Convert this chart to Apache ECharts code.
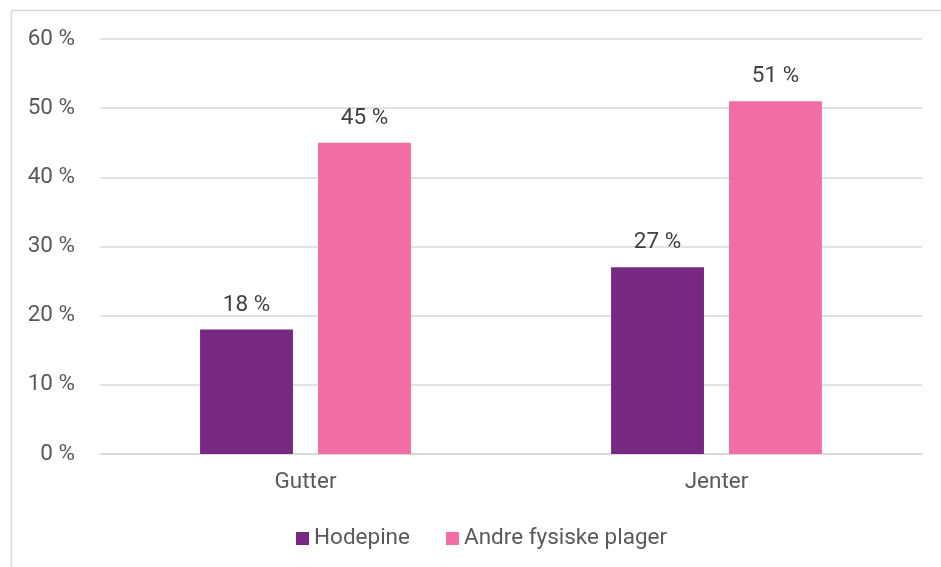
<!DOCTYPE html>
<html><head><meta charset="utf-8">
<script src="https://cdn.jsdelivr.net/npm/echarts@6/dist/echarts.min.js"></script>
<style>html,body{margin:0;padding:0;background:#fff}#c{width:941px;height:567px}</style>
</head><body><div id="c"></div>
<script>
const categories = ['Gutter', 'Jenter'];
const seriesNames = ['Hodepine', 'Andre fysiske plager'];
const hodepine = [18, 27];
const andre = [45, 51];
const colors = ['#772881', '#F06EA3'];
const txt = '#595959';
const font = 'Roboto';
const FS = 22.5;
const chart = echarts.init(document.getElementById('c'), null, {renderer: 'canvas'});
const lbl = {show: true, position: 'top', distance: 13, color: '#404040', fontFamily: font, fontSize: FS, formatter: p => p.value + ' %'};
chart.setOption({
  animation: false,
  textStyle: {fontFamily: font},
  graphic: [{type: 'rect', shape: {x: 11.5, y: 10.5, width: 940, height: 570}, style: {fill: 'none', stroke: '#d9d9d9', lineWidth: 1.5}, silent: true}],
  grid: {left: 100, right: 19, top: 39, bottom: 113, containLabel: false},
  legend: {bottom: 12, left: 296, padding: [5, 0, 5, 0], itemWidth: 13, itemHeight: 13, itemGap: 36, icon: 'rect',
    textStyle: {color: txt, fontSize: FS, fontFamily: font, padding: [0, 0, 0, 0]}, data: seriesNames},
  xAxis: {type: 'category', data: categories, axisTick: {show: false},
    axisLine: {lineStyle: {color: '#d9d9d9', width: 1.5}},
    axisLabel: {color: txt, fontSize: FS, fontFamily: font, margin: 17}},
  yAxis: {type: 'value', min: 0, max: 60, interval: 10,
    axisLabel: {color: txt, fontSize: FS, fontFamily: font, margin: 25, formatter: v => v + ' %'},
    splitLine: {lineStyle: {color: '#d9d9d9', width: 1.5}}, axisLine: {show: false}, axisTick: {show: false}},
  series: [
    {name: seriesNames[0], type: 'bar', data: hodepine, itemStyle: {color: colors[0]}, barWidth: '22.6%', barGap: '27%', label: lbl},
    {name: seriesNames[1], type: 'bar', data: andre, itemStyle: {color: colors[1]}, barWidth: '22.6%', barGap: '27%', label: lbl}
  ]
});
</script></body></html>
